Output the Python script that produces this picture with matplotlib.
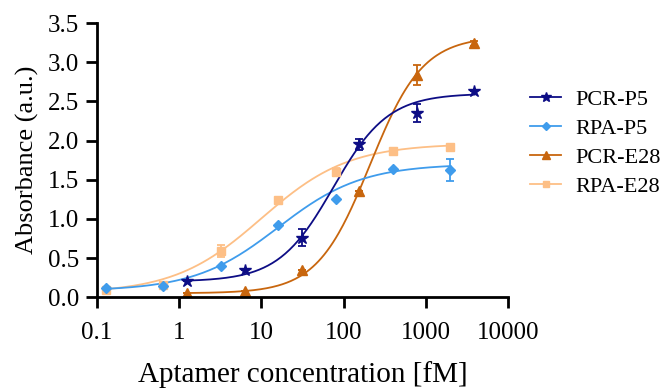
import numpy as np
import matplotlib.pyplot as plt

plt.rcParams['font.family'] = ['Liberation Serif', 'DejaVu Serif']

# concentrations (fM)
conc_pcr = [1.25, 6.25, 31.25, 156.25, 781.25, 3906.25]
conc_rpa = [0.128, 0.64, 3.2, 16, 80, 400, 2000]

# absorbance readings
pcr_p5 = [0.21, 0.345, 0.76, 1.95, 2.35, 2.63]
pcr_p5_err = [0.0, 0.0, 0.11, 0.075, 0.11, 0.0]
rpa_p5 = [0.12, 0.14, 0.40, 0.92, 1.25, 1.635, 1.62]
rpa_p5_err = [0.0, 0.0, 0.0, 0.0, 0.0, 0.0, 0.14]
pcr_e28 = [0.05, 0.075, 0.35, 1.35, 2.84, 3.24]
pcr_e28_err = [0.0, 0.0, 0.0, 0.0, 0.13, 0.03]
rpa_e28 = [0.09, 0.15, 0.59, 1.24, 1.60, 1.86, 1.92]
rpa_e28_err = [0.0, 0.0, 0.08, 0.0, 0.05, 0.0, 0.0]

# 4PL fit parameters (bottom, top, EC50, hill)
fit_pcr_p5 = [0.2, 2.6, 75, 1.3]
fit_rpa_p5 = [0.08, 1.70, 16, 0.85]
fit_pcr_e28 = [0.05, 3.33, 210, 1.35]
fit_rpa_e28 = [0.05, 1.96, 10, 0.82]

def four_pl(x, p):
    b, t, ec, h = p
    return b + (t - b) / (1 + (ec / x) ** h)

fig = plt.figure(figsize=(6.66, 3.9), dpi=100)
ax = fig.add_axes([0.1456, 0.238, 0.617, 0.703])

series = [
    ('RPA-E28', conc_rpa, rpa_e28, rpa_e28_err, fit_rpa_e28, '#fdbf86', 's', 6),
    ('PCR-E28', conc_pcr, pcr_e28, pcr_e28_err, fit_pcr_e28, '#c8660e', '^', 7),
    ('RPA-P5', conc_rpa, rpa_p5, rpa_p5_err, fit_rpa_p5, '#3f9cec', 'D', 5),
    ('PCR-P5', conc_pcr, pcr_p5, pcr_p5_err, fit_pcr_p5, '#0d0d85', '*', 9),
]
handles = {}
for name, xs, ys, errs, fit, col, mk, ms in series:
    xs = np.array(xs)
    xf = np.logspace(np.log10(xs[0]), np.log10(xs[-1]), 200)
    ax.plot(xf, four_pl(xf, fit), color=col, lw=1.3)
    ax.errorbar(xs, ys, yerr=errs, fmt=mk, color=col, ms=ms, capsize=3,
                elinewidth=1.3, capthick=1.3)
    handles[name] = plt.Line2D([], [], color=col, marker=mk, ms=ms * 0.8, lw=1.3)

ax.set_xscale('log')
ax.set_xlim(0.1, 10000)
ax.set_ylim(0, 3.5)
ax.set_xticks([0.1, 1, 10, 100, 1000, 10000])
ax.set_xticklabels(['0.1', '1', '10', '100', '1000', '10000'])
ax.minorticks_off()
ax.set_yticks(np.arange(0, 3.51, 0.5))
ax.set_yticklabels([f'{v:.1f}' for v in np.arange(0, 3.51, 0.5)])
for s in ['top', 'right']:
    ax.spines[s].set_visible(False)
for s in ['left', 'bottom']:
    ax.spines[s].set_linewidth(2)
ax.tick_params(width=2, length=8, labelsize=18)
ax.tick_params(axis='x', pad=10)
ax.tick_params(axis='y', pad=5)
ax.set_xlabel('Aptamer concentration [fM]', fontsize=21, labelpad=12)
ax.set_ylabel('Absorbance (a.u.)', fontsize=19, labelpad=6)

order = ['PCR-P5', 'RPA-P5', 'PCR-E28', 'RPA-E28']
fig.legend([handles[n] for n in order], order, loc='upper left',
           bbox_to_anchor=(0.796, 0.77), frameon=False, fontsize=16,
           borderpad=0, borderaxespad=0, handlelength=1.4,
           handletextpad=0.65, labelspacing=0.38)

fig.savefig('out.png', dpi=100)
